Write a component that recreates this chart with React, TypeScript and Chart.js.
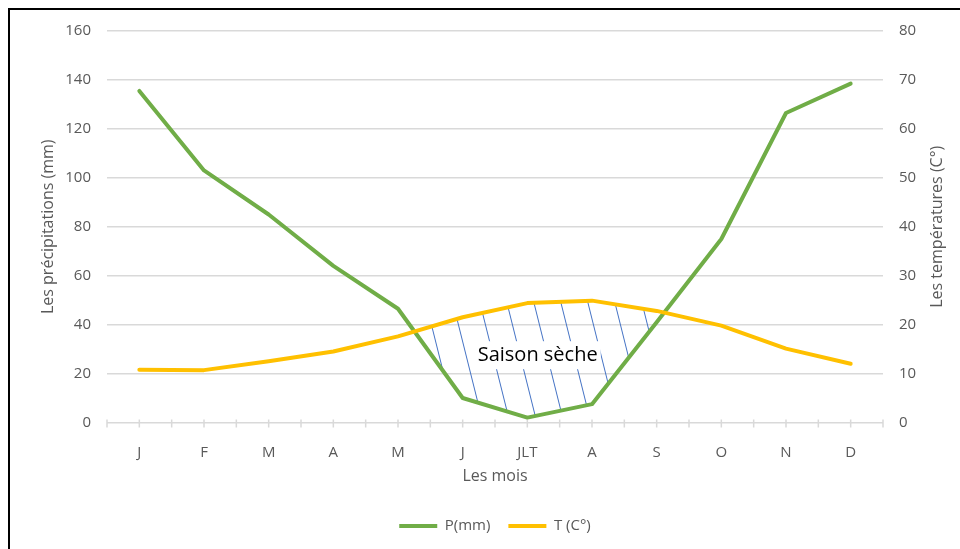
import React, { useEffect, useRef } from "react";
import { Chart, registerables } from "chart.js";

Chart.register(...registerables);

// ---------- data ----------
const months = ["J", "F", "M", "A", "M", "J", "JLT", "A", "S", "O", "N", "D"];
const precipitationMm = [135.5, 103, 85, 64, 46.5, 10, 2, 7.5, 41, 75, 126.5, 138.5];
const temperatureC = [10.8, 10.7, 12.5, 14.5, 17.6, 21.5, 24.4, 24.9, 22.8, 19.8, 15.1, 12.0];
const precipRange = [0, 160];
const precipStep = 20;
const tempRange = [0, 80];
const tempStep = 10;
const seriesNames = ["P(mm)", "T (C°)"];
const xTitle = "Les mois";
const yLeftTitle = "Les précipitations (mm)";
const yRightTitle = "Les températures (C°)";
const dryLabel = "Saison sèche";
const dryLabelAt = [6.16, 27.5]; // [month index, mm]

// ---------- style ----------
const FONT = "'Open Sans', sans-serif";
const GREY = "#595959";
const GRID = "#d9d9d9";
const GREEN = "#70AD47";
const YELLOW = "#FFC000";
const HATCH = "#4472C4";

const xTicksPlugin = {
  id: "xTicksMarks",
  beforeDatasetsDraw(chart: any) {
    const xs = chart.scales.x;
    const ys = chart.scales.y;
    const y0 = ys.getPixelForValue(0);
    const ctx = chart.ctx;
    ctx.save();
    ctx.strokeStyle = GRID;
    ctx.lineWidth = 1.5;
    for (let v = -0.5; v <= months.length - 0.5 + 1e-9; v += 0.5) {
      const px = xs.getPixelForValue(v);
      ctx.beginPath();
      ctx.moveTo(px, y0 - 3);
      ctx.lineTo(px, y0 + 5);
      ctx.stroke();
    }
    ctx.restore();
  },
};

const hatchPlugin = {
  id: "drySeasonHatch",
  beforeDatasetsDraw(chart: any) {
    const pP = chart.getDatasetMeta(0).data.map((e: any) => ({ x: e.x, y: e.y }));
    const pT = chart.getDatasetMeta(1).data.map((e: any) => ({ x: e.x, y: e.y }));
    const n = pP.length;
    const d = pP.map((p: any, i: number) => p.y - pT[i].y); // >0 => T above P
    const upper: any[] = [];
    const lower: any[] = [];
    for (let i = 0; i < n; i++) {
      if (d[i] > 0) {
        upper.push(pT[i]);
        lower.push(pP[i]);
      }
      if (i < n - 1 && d[i] > 0 !== d[i + 1] > 0) {
        const t = d[i] / (d[i] - d[i + 1]);
        const c = { x: pP[i].x + t * (pP[i + 1].x - pP[i].x), y: pP[i].y + t * (pP[i + 1].y - pP[i].y) };
        upper.push(c);
        lower.push(c);
      }
    }
    if (upper.length < 3) return;
    const ctx = chart.ctx;
    const area = chart.chartArea;
    ctx.save();
    ctx.beginPath();
    upper.forEach((p, i) => (i === 0 ? ctx.moveTo(p.x, p.y) : ctx.lineTo(p.x, p.y)));
    for (let i = lower.length - 1; i >= 0; i--) ctx.lineTo(lower[i].x, lower[i].y);
    ctx.closePath();
    ctx.clip();
    ctx.strokeStyle = HATCH;
    ctx.lineWidth = 1;
    const slope = 0.25;
    const spacing = 27;
    const h = area.bottom - area.top;
    for (let x = area.left + 8; x < area.right; x += spacing) {
      ctx.beginPath();
      ctx.moveTo(x, area.top);
      ctx.lineTo(x + slope * h, area.bottom);
      ctx.stroke();
    }
    ctx.restore();

    // label with white backing
    const xs = chart.scales.x;
    const ys = chart.scales.y;
    const cx = xs.getPixelForValue(dryLabelAt[0]);
    const cy = ys.getPixelForValue(dryLabelAt[1]);
    ctx.save();
    ctx.font = `20px ${FONT}`;
    const w = ctx.measureText(dryLabel).width;
    ctx.fillStyle = "#ffffff";
    ctx.fillRect(cx - w / 2 - 3, cy - 14, w + 6, 28);
    ctx.fillStyle = "#000000";
    ctx.textAlign = "center";
    ctx.textBaseline = "middle";
    ctx.fillText(dryLabel, cx, cy);
    ctx.restore();
  },
};

const rightTitlePlugin = {
  id: "rightTitle",
  afterDraw(chart: any) {
    const s = chart.scales.y1;
    const area = chart.chartArea;
    const ctx = chart.ctx;
    ctx.save();
    ctx.translate(s.left + 54.5, (area.top + area.bottom) / 2);
    ctx.rotate(-Math.PI / 2);
    ctx.font = `16px ${FONT}`;
    ctx.fillStyle = GREY;
    ctx.textAlign = "center";
    ctx.textBaseline = "middle";
    ctx.fillText(yRightTitle, 0, 0);
    ctx.restore();
  },
};

export default function App() {
  const ref = useRef<HTMLCanvasElement | null>(null);

  useEffect(() => {
    if (!ref.current) return;
    const chart = new Chart(ref.current, {
      type: "line",
      data: {
        labels: months,
        datasets: [
          {
            label: seriesNames[0],
            data: precipitationMm,
            yAxisID: "y",
            borderColor: GREEN,
            backgroundColor: GREEN,
            borderWidth: 4,
            borderCapStyle: "round",
            borderJoinStyle: "round",
            pointRadius: 0,
            tension: 0,
            order: 1,
          },
          {
            label: seriesNames[1],
            data: temperatureC,
            yAxisID: "y1",
            borderColor: YELLOW,
            backgroundColor: YELLOW,
            borderWidth: 4,
            borderCapStyle: "round",
            borderJoinStyle: "round",
            pointRadius: 0,
            tension: 0,
            order: 0,
          },
        ],
      },
      options: {
        responsive: false,
        animation: false,
        devicePixelRatio: 1,
        layout: { padding: { left: 0, right: 0, top: 31, bottom: 5.5 } },
        plugins: {
          tooltip: { enabled: false },
          legend: {
            position: "bottom",
            fullSize: false,
            labels: {
              usePointStyle: true,
              pointStyle: "line",
              pointStyleWidth: 38,
              boxHeight: 15,
              padding: 18,
              color: GREY,
              font: { family: FONT, size: 15 },
              sort: (a: any, b: any) => a.datasetIndex - b.datasetIndex,
            },
          },
        },
        scales: {
          x: {
            type: "category",
            offset: true,
            grid: { display: false },
            border: { display: false },
            ticks: { color: GREY, font: { family: FONT, size: 15 }, padding: 13.5, maxRotation: 0, autoSkip: false },
            title: {
              display: true,
              text: xTitle,
              color: GREY,
              font: { family: FONT, size: 16 },
              padding: { top: 0, bottom: 14 },
            },
            afterFit: (s: any) => {
              s.height = 78;
            },
          },
          y: {
            position: "left",
            min: precipRange[0],
            max: precipRange[1],
            ticks: { stepSize: precipStep, color: GREY, font: { family: FONT, size: 15 }, padding: 16 },
            grid: { color: GRID, lineWidth: 1.5, drawTicks: false },
            border: { display: false },
            title: {
              display: true,
              text: yLeftTitle,
              color: GREY,
              font: { family: FONT, size: 16 },
              padding: { top: 38.4, bottom: 0 },
            },
            afterFit: (s: any) => {
              s.width = 107;
            },
          },
          y1: {
            position: "right",
            min: tempRange[0],
            max: tempRange[1],
            ticks: { stepSize: tempStep, color: GREY, font: { family: FONT, size: 15 }, padding: 16 },
            grid: { drawOnChartArea: false, drawTicks: false },
            border: { display: false },
            afterFit: (s: any) => {
              s.width = 77;
            },
          },
        },
      },
      plugins: [xTicksPlugin, hatchPlugin, rightTitlePlugin],
    } as any);
    return () => chart.destroy();
  }, []);

  return (
    <div
      style={{
        position: "absolute",
        left: 0,
        top: 0,
        width: 960,
        height: 549,
        overflow: "hidden",
        background: "#ffffff",
      }}
    >
      <div
        style={{
          position: "absolute",
          left: 8,
          top: 8,
          width: 1000,
          height: 600,
          borderTop: "2px solid #000",
          borderLeft: "2px solid #000",
        }}
      />
      <canvas
        ref={ref}
        width={960}
        height={549}
        style={{ position: "absolute", left: 0, top: 0, width: 960, height: 549 }}
      />
    </div>
  );
}
